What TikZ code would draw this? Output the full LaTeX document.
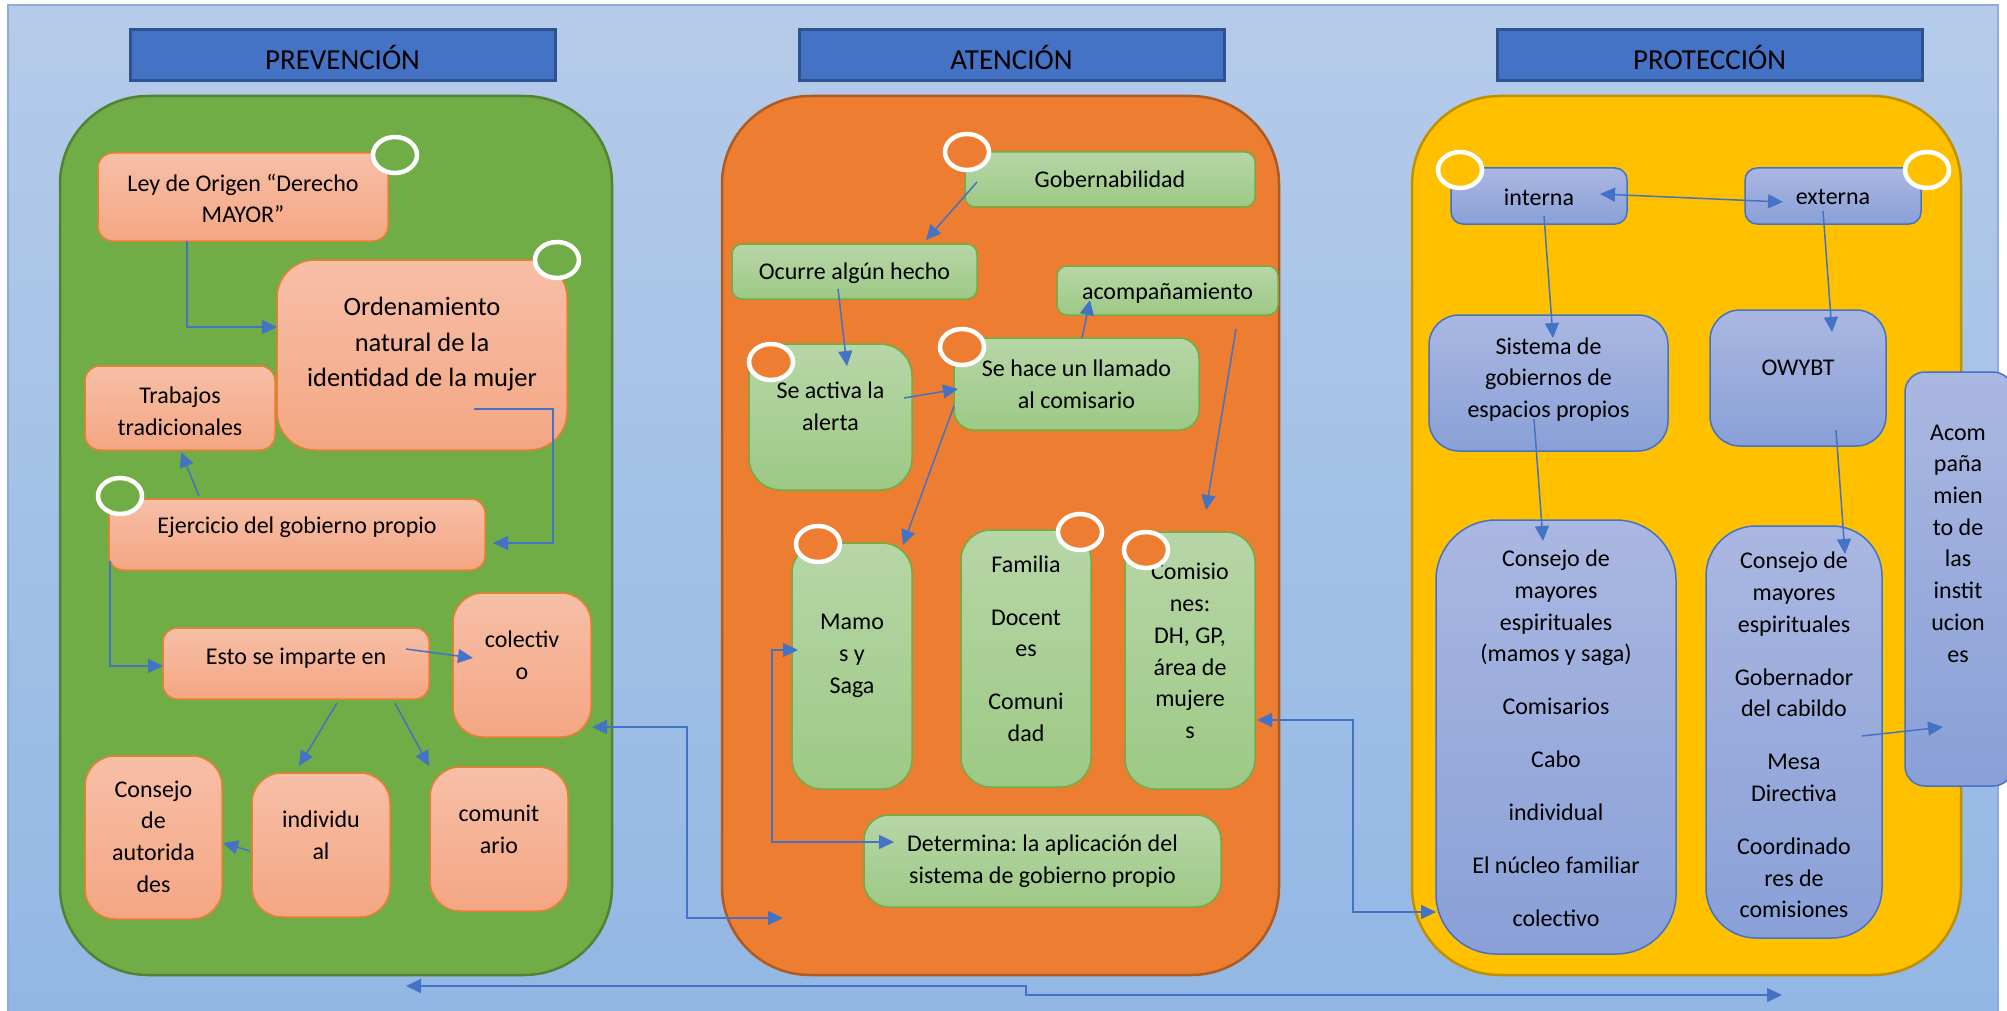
\documentclass[tikz,border=0pt]{standalone}
\usepackage{fontspec}
\setmainfont{Carlito}
\usetikzlibrary{arrows.meta,calc,shapes.geometric}
\definecolor{bgTop}{RGB}{181,203,233}
\definecolor{bgBot}{RGB}{146,183,228}
\definecolor{bgLine}{RGB}{143,170,220}
\definecolor{titleFill}{RGB}{68,114,196}
\definecolor{titleLine}{RGB}{47,82,143}
\definecolor{cGreen}{RGB}{112,173,71}
\definecolor{cGreenLine}{RGB}{84,130,53}
\definecolor{cOrange}{RGB}{237,125,49}
\definecolor{cOrangeLine}{RGB}{174,90,33}
\definecolor{cYellow}{RGB}{255,192,0}
\definecolor{cYellowLine}{RGB}{191,144,0}
\definecolor{salTop}{RGB}{247,191,167}
\definecolor{salBot}{RGB}{244,166,131}
\definecolor{salLine}{RGB}{237,125,49}
\definecolor{grnTop}{RGB}{183,214,167}
\definecolor{grnBot}{RGB}{157,201,133}
\definecolor{grnLine}{RGB}{112,173,71}
\definecolor{bluTop}{RGB}{170,183,225}
\definecolor{bluBot}{RGB}{137,160,215}
\definecolor{bluLine}{RGB}{68,114,196}
\definecolor{arrowC}{RGB}{68,114,196}
\tikzset{
  base/.style={rectangle, inner sep=0pt, outer sep=0pt, anchor=north west},
  sz/.style 2 args={minimum width=#1pt, minimum height=#2pt},
  title/.style={base, fill=titleFill, draw=titleLine, line width=3pt},
  cont/.style={base, rounded corners=88pt, line width=2.5pt},
  salbox/.style={base, draw=salLine, line width=1.5pt, top color=salTop, bottom color=salBot},
  grnbox/.style={base, draw=grnLine, line width=1.5pt, top color=grnTop, bottom color=grnBot},
  blubox/.style={base, draw=bluLine, line width=1.5pt, top color=bluTop, bottom color=bluBot},
  txt/.style={align=center, inner sep=0pt, text=black, font=\fontsize{24}{31.7}\selectfont},
  bigtxt/.style={txt, font=\fontsize{26.5}{35.5}\selectfont},
  ttl/.style={inner sep=0pt, anchor=base, text=black, font=\fontsize{29}{34}\selectfont},
  ring/.style={ellipse, draw=white, line width=4.5pt, minimum width=44pt, minimum height=36pt, inner sep=0pt},
  arr/.style={draw=arrowC, line width=1.5pt, -{Triangle[length=15pt,width=14pt]}},
  arr2/.style={draw=arrowC, line width=1.5pt, {Triangle[length=15pt,width=14pt]}-{Triangle[length=15pt,width=14pt]}},
}
\begin{document}
\frenchspacing
\begin{tikzpicture}[x=1pt,y=-1pt]
\useasboundingbox (0,0) rectangle (2007,1011);
% background
\path[top color=bgTop, bottom color=bgBot, draw=bgLine, line width=1.5pt] (8,5) rectangle (1998,1016);

% titles
\node[title, sz={425}{51}] (hPrev) at (130,30) {};
\node[title, sz={425}{51}] (hAten) at (799,30) {};
\node[title, sz={425}{51}] (hProt) at (1497,30) {};
\node[ttl] (tPrev) at ($(hPrev.south)+(0,-11)$) {PREVENCIÓN};
\node[ttl] (tAten) at ($(hAten.south)+(0,-11)$) {ATENCIÓN};
\node[ttl] (tProt) at ($(hProt.south)+(0,-11)$) {PROTECCIÓN};

% containers
\node[cont, sz={552}{879}, fill=cGreen, draw=cGreenLine] (cPr) at (60,96) {};
\node[cont, sz={557}{879}, fill=cOrange, draw=cOrangeLine] (cOr) at (722,96) {};
\node[cont, sz={549}{879}, fill=cYellow, draw=cYellowLine] (cYe) at (1412,96) {};

% PREVENCION boxes
\node[salbox, sz={290}{88}, rounded corners=15pt] (ley) at (98,153) {};
\node[salbox, sz={290}{190}, rounded corners=38pt] (orden) at (277,260) {};
\node[salbox, sz={190}{84}, rounded corners=15pt] (trab) at (85,366) {};
\node[salbox, sz={376}{71}, rounded corners=14pt] (ejer) at (109,499) {};
\node[salbox, sz={266}{71}, rounded corners=14pt] (esto) at (163,628) {};
\node[salbox, sz={138}{144}, rounded corners=30pt] (colec) at (453,593) {};
\node[salbox, sz={137}{163}, rounded corners=30pt] (consA) at (85,756) {};
\node[salbox, sz={138}{144}, rounded corners=30pt] (indiv) at (252,773) {};
\node[salbox, sz={138}{144}, rounded corners=30pt] (comun) at (430,767) {};

\node[txt] (tLey) at ($(ley.center)+(0,1.5)$) {Ley de Origen “Derecho\\MAYOR”};
\node[bigtxt] (tOrden) at ($(orden.center)+(0,-10.5)$) {Ordenamiento\\natural de la\\identidad de la mujer};
\node[txt] (tTrab) at ($(trab.center)+(0,3.5)$) {Trabajos\\tradicionales};
\node[txt] (tEjer) at ($(ejer.center)+(0,-7.5)$) {Ejercicio del gobierno propio};
\node[txt] (tEsto) at ($(esto.center)+(0,-5.5)$) {Esto se imparte en};
\node[txt] (tColec) at ($(colec.center)+(0,-10)$) {colectiv\\o};
\node[txt] (tConsA) at ($(consA.center)+(0,-1)$) {Consejo\\de\\autorida\\des};
\node[txt] (tIndiv) at ($(indiv.center)+(0,-10)$) {individu\\al};
\node[txt] (tComun) at ($(comun.center)+(0,-10)$) {comunit\\ario};

% ATENCION boxes
\node[grnbox, sz={290}{55}, rounded corners=10pt] (gob) at (965,152) {};
\node[grnbox, sz={245}{55}, rounded corners=10pt] (ocurre) at (732,244) {};
\node[grnbox, sz={221}{49}, rounded corners=10pt] (acomp) at (1057,266) {};
\node[grnbox, sz={163}{146}, rounded corners=32pt] (activa) at (749,344) {};
\node[grnbox, sz={245}{92}, rounded corners=20pt] (llamado) at (954,338) {};
\node[grnbox, sz={120}{246}, rounded corners=30pt] (mamos) at (792,543) {};
\node[grnbox, sz={130}{257}, rounded corners=30pt] (familia) at (961,530) {};
\node[grnbox, sz={130}{257}, rounded corners=30pt] (comis) at (1125,532) {};
\node[grnbox, sz={357}{92}, rounded corners=25pt] (determ) at (864,815) {};

\node[txt] (tGob) at (gob.center) {Gobernabilidad};
\node[txt] (tOcurre) at ($(ocurre.center)+(0,1.5)$) {Ocurre algún hecho};
\node[txt] (tAcomp) at ($(acomp.center)+(0,3)$) {acompañamiento};
\node[txt] (tActiva) at ($(activa.center)+(0,-10.5)$) {Se activa la\\alerta};
\node[txt] (tLlamado) at (llamado.center) {Se hace un llamado\\al comisario};
\node[txt] (tMamos) at ($(mamos.center)+(0,-10)$) {Mamo\\s y\\Saga};
\node[txt] (tFamilia) at ($(familia.center)+(0,-10)$) {Familia\\[21.3pt]Docent\\es\\[21.3pt]Comuni\\dad};
\node[txt] (tComis) at ($(comis.center)+(0,-9.5)$) {Comisio\\nes:\\DH, GP,\\área de\\mujere\\s};
\node[txt] (tDeterm) at (determ.center) {Determina: la aplicación del\\sistema de gobierno propio};

% PROTECCION boxes
\node[blubox, sz={176}{56}, rounded corners=12pt] (interna) at (1451,168) {};
\node[blubox, sz={176}{56}, rounded corners=12pt] (externa) at (1745,168) {};
\node[blubox, sz={239}{136}, rounded corners=30pt] (sistema) at (1429,315) {};
\node[blubox, sz={176}{136}, rounded corners=30pt] (owybt) at (1710,310) {};
\node[blubox, sz={240}{434}, rounded corners=60pt] (consL) at (1436,520) {};
\node[blubox, sz={176}{412}, rounded corners=50pt] (consR) at (1706,526) {};
\node[blubox, sz={108}{414}, rounded corners=20pt] (acompI) at (1905,372) {};

\node[txt] (tInterna) at ($(interna.center)+(0,1)$) {interna};
\node[txt] (tExterna) at ($(externa.center)+(0,1)$) {externa};
\node[txt] (tSistema) at ($(sistema.center)+(0,-3.5)$) {Sistema de\\gobiernos de\\espacios propios};
\node[txt] (tOwybt) at ($(owybt.center)+(0,-10)$) {OWYBT};
\node[txt] (tConsL) at ($(consL.center)+(0,1.5)$) {Consejo de\\mayores\\espirituales\\(mamos y saga)\\[21.3pt]Comisarios\\[21.3pt]Cabo\\[21.3pt]individual\\[21.3pt]El núcleo familiar\\[21.3pt]colectivo};
\node[txt] (tConsR) at ($(consR.center)+(0,3)$) {Consejo de\\mayores\\espirituales\\[21.3pt]Gobernador\\del cabildo\\[21.3pt]Mesa\\Directiva\\[21.3pt]Coordinado\\res de\\comisiones};
\node[txt] (tAcompI) at ($(acompI.center)+(-1,-35.5)$) {Acom\\paña\\mien\\to de\\las\\instit\\ucion\\es};

% connectors PREVENCION
\draw[arr] ($(ley.south west)+(89,0)$) |- ($(orden.north west)+(0,67)$);
\draw[arr] ($(orden.north west)+(197,149)$) -- ++(79,0) |- ($(ejer.north east)+(8,44)$);
\draw[arr] ($(ejer.north west)+(90,-3)$) -- ($(trab.south west)+(96,2)$);
\draw[arr] ($(ejer.south west)+(1,-9)$) |- ($(esto.north west)+(0,38)$);
\draw[arr] ($(esto.north west)+(243,21)$) -- ($(colec.north west)+(20,65)$);
\draw[arr] ($(esto.south west)+(174,4)$) -- ($(indiv.north west)+(47,-7)$);
\draw[arr] ($(esto.south west)+(232,4)$) -- ($(comun.north west)+(-1,-1)$);
\draw[arr] ($(indiv.north west)+(-2,78)$) -- ($(consA.north east)+(1,87)$);

% connectors between columns
\draw[arr2] ($(colec.north east)+(1,134)$) -- ++(95,0) |- ($(cOr.north west)+(61,822)$);
\draw[arr2] ($(comis.north east)+(2,188)$) -- ++(96,0) |- ($(consL.north west)+(0,392)$);
\coordinate (bL) at (406,986);
\coordinate (bR) at (1782,995);
\draw[arr2] (bL) -- ++(620,0) |- (bR);

% connectors ATENCION
\draw[arr] ($(gob.north west)+(12,30)$) -- ($(ocurre.north east)+(-51,-4)$);
\draw[arr] ($(ocurre.south west)+(106,-10)$) -- ($(activa.north west)+(98,22)$);
\draw[arr] ($(activa.north east)+(-8,54)$) -- ($(llamado.north west)+(4,51)$);
\draw[arr] ($(llamado.north west)+(128,0)$) -- ($(acomp.south west)+(33,-15)$);
\draw[arr] ($(acomp.south west)+(179,14)$) -- ($(comis.north west)+(81,-22)$);
\draw[arr] ($(llamado.south west)+(0,-24)$) -- ($(mamos.north east)+(-9,2)$);
\draw[arr2] ($(mamos.north west)+(6,107)$) -- ++(-26,0) |- ($(determ.north west)+(30,27)$);

% connectors PROTECCION
\draw[arr2] ($(interna.north west)+(149,26)$) -- ($(externa.north west)+(38,34)$);
\draw[arr] ($(interna.south west)+(93,-8)$) -- ($(sistema.north west)+(124,23)$);
\draw[arr] ($(externa.south west)+(78,-13)$) -- ($(owybt.north west)+(122,22)$);
\draw[arr] ($(sistema.south west)+(105,-32)$) -- ($(consL.north west)+(107,21)$);
\draw[arr] ($(owybt.south west)+(126,-16)$) -- ($(consR.north west)+(139,28)$);
\draw[arr] ($(consR.north west)+(156,210)$) -- ($(acompI.north west)+(38,355)$);

% rings
\node[ring, fill=cGreen] (r1) at (395,155) {};
\node[ring, fill=cGreen] (r2) at (557,260) {};
\node[ring, fill=cGreen] (r3) at (120,496) {};
\node[ring, fill=cOrange] (r4) at (967,152) {};
\node[ring, fill=cOrange] (r5) at (771,362) {};
\node[ring, fill=cOrange] (r6) at (962,347) {};
\node[ring, fill=cOrange] (r7) at (818,544) {};
\node[ring, fill=cOrange] (r8) at (1080,532) {};
\node[ring, fill=cOrange] (r9) at (1146,550) {};
\node[ring, fill=cYellow] (r10) at (1460,170) {};
\node[ring, fill=cYellow] (r11) at (1927,170) {};
\end{tikzpicture}
\end{document}
